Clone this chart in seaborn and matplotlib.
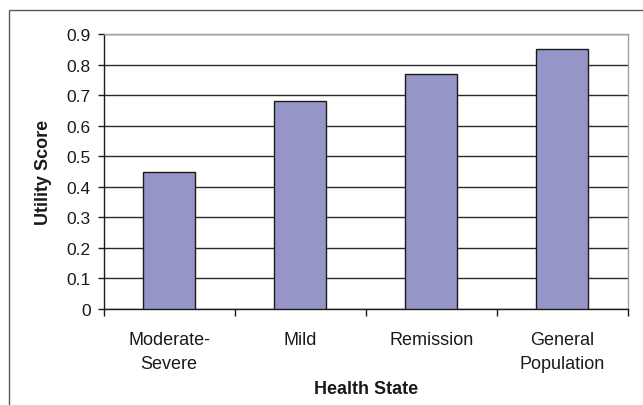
import matplotlib
matplotlib.use("Agg")
import matplotlib.pyplot as plt
from matplotlib.patches import Rectangle
from matplotlib.ticker import FixedLocator
import seaborn as sns
import pandas as pd

# Utility scores by health state
health_states = ["Moderate-\nSevere", "Mild", "Remission", "General\nPopulation"]
utility_scores = [0.45, 0.68, 0.77, 0.85]
y_ticks = [0, 0.1, 0.2, 0.3, 0.4, 0.5, 0.6, 0.7, 0.8, 0.9]

sns.set_theme(style="white")
plt.rcParams["font.family"] = ["Liberation Sans", "DejaVu Sans"]

df = pd.DataFrame({"state": health_states, "score": utility_scores})

W, H = 643, 406
fig = plt.figure(figsize=(W / 100, H / 100), dpi=100)
fig.patch.set_facecolor("white")

# outer chart frame
fig.patches.append(Rectangle((9 / W, -0.05), 1.2, (H - 11) / H + 0.05,
                             transform=fig.transFigure, fill=False,
                             edgecolor="#5a5a5a", linewidth=1.0, zorder=0))

ax = fig.add_axes([103.7 / W, 1 - 310 / H, 524 / W, 275 / H])
ax.set_facecolor("white")

sns.barplot(data=df, x="state", y="score", ax=ax, color="#9595C7",
            saturation=1, width=0.4, edgecolor="#1a1a1a", linewidth=1.0,
            zorder=3)

ax.set_xlim(-0.5, len(health_states) - 0.5)
ax.set_ylim(0, 0.9)
ax.set_yticks(y_ticks)
ax.set_yticklabels([f"{v:g}" for v in y_ticks])

# horizontal gridlines
ax.yaxis.grid(True, color="#2a2a2a", linewidth=1.0, zorder=1)
ax.xaxis.grid(False)
ax.set_axisbelow(True)

for side in ["left", "bottom"]:
    ax.spines[side].set_color("#1a1a1a")
    ax.spines[side].set_linewidth(1.0)
for side in ["top", "right"]:
    ax.spines[side].set_color("#a0a0a0")
    ax.spines[side].set_linewidth(1.0)
    ax.spines[side].set_visible(True)

# category separators as tick marks
ax.xaxis.set_minor_locator(FixedLocator([i - 0.5 for i in range(len(health_states) + 1)]))
ax.tick_params(axis="x", which="minor", bottom=True, length=5, width=1.0,
               color="#1a1a1a", direction="out")
ax.tick_params(axis="x", which="major", bottom=True, length=0, pad=16,
               labelsize=13, labelcolor="#1a1a1a")
ax.tick_params(axis="y", which="major", left=True, length=4.5, width=1.0,
               color="#1a1a1a", direction="out", pad=5, labelsize=12.5,
               labelcolor="#1a1a1a")
for lbl in ax.get_xticklabels():
    lbl.set_linespacing(1.55)

ax.set_xlabel("Health State", fontsize=13, fontweight="bold", color="#1a1a1a")
ax.set_ylabel("Utility Score", fontsize=13, fontweight="bold", color="#1a1a1a")
ax.xaxis.set_label_coords(0.5, (310 - 394) / 275)
ax.xaxis.label.set_va("baseline")
ax.yaxis.set_label_coords((44 - 103.7) / 524, 0.5)
ax.yaxis.label.set_va("center")

fig.savefig("out.png", dpi=100, facecolor="white")
